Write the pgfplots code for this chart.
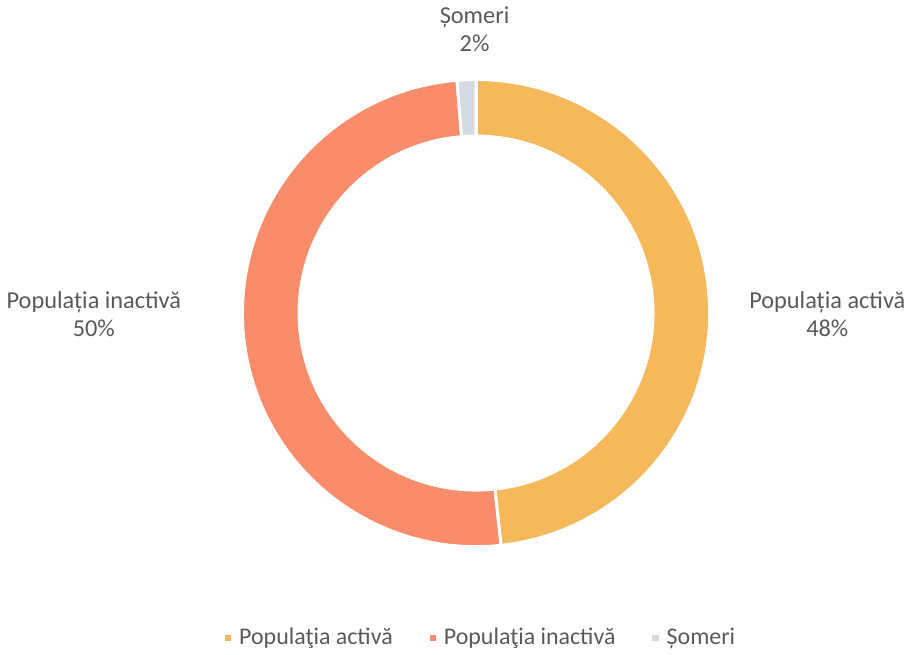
\documentclass[border=0pt]{standalone}
\usepackage{pgfplots}
\pgfplotsset{compat=1.18}
\usepackage{pgfplotstable}
\usepackage{fontspec}
\setmainfont{Carlito}

\definecolor{cActiva}{HTML}{F5B95B}
\definecolor{cInactiva}{HTML}{F98C6A}
\definecolor{cSomeri}{HTML}{D6DBE3}
\definecolor{txt}{HTML}{595959}

% share of each group, in %
\pgfplotstableread[col sep=comma]{
name,value,colour
activa,48.3,cActiva
inactiva,50.4,cInactiva
someri,1.3,cSomeri
}\piedata

\begin{document}
\begin{tikzpicture}
\begin{axis}[
	scale only axis,
	width=456pt, height=324pt,
	xmin=0, xmax=912, ymin=0, ymax=648,
	hide axis,
	clip=false,
	legend columns=3,
	legend style={draw=none, fill=none, at={(axis cs:484,12)}, anchor=center,
		font=\fontsize{12}{14}\selectfont, text=txt,
		nodes={inner sep=1.5pt},
		/tikz/every odd column/.append style={column sep=2.5pt},
		/tikz/every even column/.append style={column sep=17pt}},
	legend image code/.code={\fill[#1,draw=none] (0pt,-1.6pt) rectangle (3.2pt,1.6pt);},
]
\def\cx{478.5}\def\cy{338}
\def\Ro{117.2pt}\def\Ri{88.8pt}
\def\cum{0}
\pgfplotsforeachungrouped \i in {0,1,2}{
	\pgfplotstablegetelem{\i}{value}\of\piedata \let\slval=\pgfplotsretval
	\pgfplotstablegetelem{\i}{colour}\of\piedata \let\slcol=\pgfplotsretval
	\pgfmathsetmacro\angA{90-3.6*\cum}
	\pgfmathsetmacro\cumnew{\cum+\slval}\global\let\cum\cumnew
	\pgfmathsetmacro\angB{90-3.6*\cum}
	\edef\temp{\noexpand\fill[\slcol, draw=white, line width=1.5pt]
		([shift={(\angA:\Ro)}]axis cs:\cx,\cy) arc[start angle=\angA, end angle=\angB, radius=\Ro]
		-- ([shift={(\angB:\Ri)}]axis cs:\cx,\cy) arc[start angle=\angB, end angle=\angA, radius=\Ri] -- cycle;}
	\temp
}
\addlegendimage{fill=cActiva}\addlegendentry{Populaţia activă}
\addlegendimage{fill=cInactiva}\addlegendentry{Populaţia inactivă}
\addlegendimage{fill=cSomeri}\addlegendentry{Șomeri}

\begin{scope}[every node/.style={align=center, text=txt, font=\fontsize{12.2}{14}\selectfont}]
\node at (axis cs:477,623) {Șomeri\\2\%};
\node at (axis cs:831,337) {Populația activă\\48\%};
\node at (axis cs:95,337) {Populația inactivă\\50\%};
\end{scope}
\end{axis}
\end{tikzpicture}
\end{document}
